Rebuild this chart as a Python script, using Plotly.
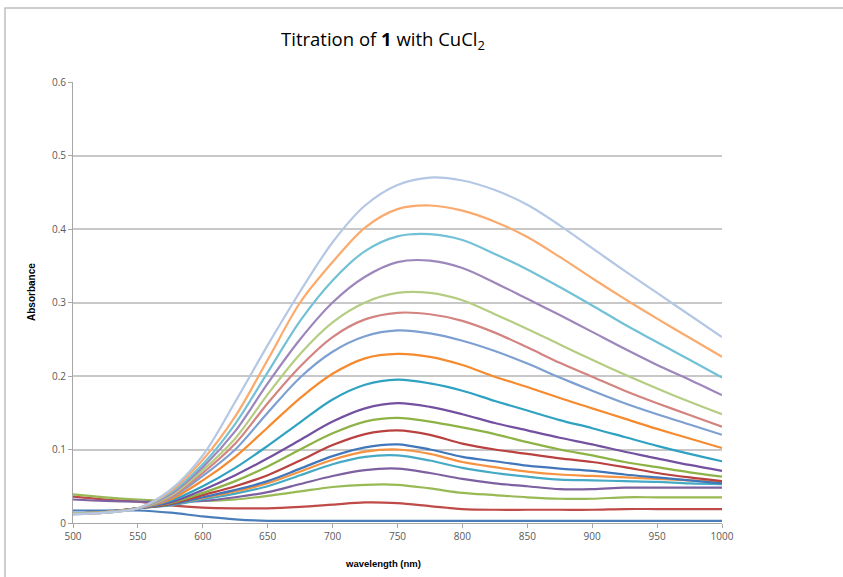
import plotly.graph_objects as go

wavelength = [500, 525, 550, 575, 600, 625, 650, 675, 700, 725, 750,
              775, 800, 825, 850, 875, 900, 925, 950, 975, 1000]

s01 = [0.017, 0.017, 0.017, 0.014, 0.009, 0.005, 0.003, 0.003, 0.003, 0.003, 0.003,
       0.003, 0.003, 0.003, 0.003, 0.003, 0.003, 0.003, 0.003, 0.003, 0.003]
s02 = [0.036, 0.032, 0.029, 0.024, 0.021, 0.020, 0.020, 0.022, 0.025, 0.028, 0.027,
       0.023, 0.019, 0.018, 0.018, 0.018, 0.018, 0.019, 0.019, 0.019, 0.019]
s03 = [0.039, 0.035, 0.032, 0.030, 0.030, 0.032, 0.037, 0.043, 0.049, 0.052, 0.052,
       0.047, 0.041, 0.038, 0.035, 0.033, 0.033, 0.035, 0.035, 0.035, 0.035]
s04 = [0.032, 0.030, 0.029, 0.029, 0.030, 0.035, 0.042, 0.053, 0.064, 0.072, 0.074,
       0.068, 0.060, 0.054, 0.050, 0.046, 0.046, 0.048, 0.048, 0.048, 0.048]
s05 = [0.013, 0.015, 0.020, 0.024, 0.032, 0.040, 0.050, 0.065, 0.080, 0.090, 0.092,
       0.085, 0.075, 0.068, 0.063, 0.059, 0.058, 0.057, 0.056, 0.054, 0.053]
s06 = [0.013, 0.015, 0.020, 0.025, 0.034, 0.043, 0.054, 0.070, 0.086, 0.097, 0.100,
       0.094, 0.083, 0.076, 0.070, 0.066, 0.064, 0.062, 0.060, 0.058, 0.056]
s07 = [0.013, 0.015, 0.020, 0.025, 0.035, 0.045, 0.057, 0.074, 0.091, 0.103, 0.107,
       0.100, 0.090, 0.084, 0.078, 0.074, 0.071, 0.066, 0.062, 0.058, 0.054]
s08 = [0.013, 0.015, 0.020, 0.026, 0.038, 0.050, 0.065, 0.085, 0.106, 0.121, 0.126,
       0.120, 0.108, 0.100, 0.094, 0.088, 0.083, 0.076, 0.068, 0.062, 0.057]
s09 = [0.013, 0.015, 0.020, 0.027, 0.041, 0.057, 0.077, 0.100, 0.122, 0.138, 0.143,
       0.138, 0.130, 0.121, 0.110, 0.100, 0.092, 0.083, 0.076, 0.069, 0.063]
s10 = [0.013, 0.015, 0.020, 0.028, 0.045, 0.065, 0.088, 0.113, 0.138, 0.156, 0.163,
       0.158, 0.148, 0.136, 0.126, 0.116, 0.107, 0.097, 0.088, 0.079, 0.071]
s11 = [0.013, 0.015, 0.020, 0.030, 0.050, 0.075, 0.105, 0.137, 0.168, 0.188, 0.195,
       0.190, 0.180, 0.166, 0.153, 0.140, 0.129, 0.117, 0.105, 0.094, 0.084]
s12 = [0.013, 0.015, 0.020, 0.032, 0.058, 0.090, 0.130, 0.170, 0.203, 0.224, 0.230,
       0.226, 0.215, 0.199, 0.185, 0.170, 0.156, 0.142, 0.128, 0.115, 0.102]
s13 = [0.013, 0.015, 0.020, 0.034, 0.064, 0.100, 0.150, 0.198, 0.233, 0.254, 0.262,
       0.258, 0.248, 0.234, 0.217, 0.198, 0.180, 0.163, 0.148, 0.134, 0.120]
s14 = [0.013, 0.015, 0.020, 0.035, 0.068, 0.108, 0.163, 0.213, 0.253, 0.277, 0.286,
       0.284, 0.275, 0.259, 0.239, 0.218, 0.199, 0.180, 0.163, 0.147, 0.131]
s15 = [0.013, 0.015, 0.020, 0.037, 0.072, 0.115, 0.175, 0.230, 0.273, 0.300, 0.313,
       0.313, 0.303, 0.284, 0.264, 0.243, 0.222, 0.202, 0.183, 0.165, 0.148]
s16 = [0.012, 0.014, 0.020, 0.039, 0.076, 0.125, 0.190, 0.250, 0.300, 0.335, 0.355,
       0.357, 0.347, 0.327, 0.305, 0.283, 0.260, 0.237, 0.215, 0.195, 0.174]
s17 = [0.012, 0.014, 0.020, 0.041, 0.080, 0.135, 0.205, 0.275, 0.330, 0.370, 0.390,
       0.393, 0.385, 0.366, 0.345, 0.321, 0.296, 0.270, 0.246, 0.222, 0.198]
s18 = [0.012, 0.014, 0.020, 0.043, 0.086, 0.145, 0.222, 0.300, 0.355, 0.402, 0.427,
       0.432, 0.425, 0.410, 0.389, 0.362, 0.333, 0.305, 0.278, 0.252, 0.226]
s19 = [0.012, 0.014, 0.020, 0.045, 0.092, 0.165, 0.242, 0.315, 0.382, 0.432, 0.460,
       0.470, 0.466, 0.453, 0.433, 0.405, 0.374, 0.343, 0.313, 0.283, 0.253]

series = [s01, s02, s03, s04, s05, s06, s07, s08, s09, s10,
          s11, s12, s13, s14, s15, s16, s17, s18, s19]

colors = ["#4A7EBB", "#BE4B48", "#98B954", "#7D60A0", "#46AAC5", "#F69240",
          "#4177BA", "#B94240", "#8DB346", "#7350A0", "#2FA2C2", "#F58A2E",
          "#7D9FD1", "#D38481", "#B5CD82", "#9D86BC", "#72C1D6", "#FAAA6C",
          "#B4C7E4"]

y_ticks = [0, 0.1, 0.2, 0.3, 0.4, 0.5, 0.6]
y_ticktext = ["0", "0.1", "0.2", "0.3", "0.4", "0.5", "0.6"]
x_ticks = [500, 550, 600, 650, 700, 750, 800, 850, 900, 950, 1000]

fig = go.Figure()
for i, (vals, col) in enumerate(zip(series, colors)):
    fig.add_trace(go.Scatter(
        x=wavelength, y=vals, mode="lines", name=f"Series{i+1}",
        line=dict(color=col, width=2.2, shape="spline", smoothing=0.9),
        hoverinfo="skip"))

tick_font = "Open Sans, Liberation Sans, sans-serif"
lab_font = "Liberation Sans, Arial, sans-serif"

fig.update_layout(
    width=843, height=577,
    margin=dict(l=73, r=121, t=82, b=54),
    paper_bgcolor="white", plot_bgcolor="white",
    showlegend=False,
    font=dict(family=tick_font, color="#595959", size=10),
    title=dict(
        text="Titration of <b>1</b> with CuCl<sub>2</sub>",
        x=383 / 843, xanchor="center",
        y=1 - 40 / 577, yanchor="middle",
        font=dict(family="Open Sans, Liberation Sans, sans-serif", size=18.5,
                  color="#000000")),
    xaxis=dict(
        range=[500, 1000], tickvals=x_ticks, ticks="outside", ticklen=4,
        tickcolor="#A6A6A6", showline=True, linecolor="#A6A6A6", linewidth=1,
        showgrid=False, zeroline=False,
        tickfont=dict(size=10, color="#595959")),
    yaxis=dict(
        range=[0, 0.6], tickvals=y_ticks, ticktext=y_ticktext, ticks="outside",
        ticklen=4, tickcolor="#A6A6A6", showline=True, linecolor="#A6A6A6",
        linewidth=1, showgrid=True, gridcolor="#C8C8C8", gridwidth=2,
        zeroline=False, tickfont=dict(size=10, color="#595959")),
    annotations=[
        dict(text="<b>wavelength (nm)</b>", xref="paper", yref="paper",
             x=(383 - 73) / 649, y=(523 - 563) / 441, xanchor="center",
             yanchor="middle", showarrow=False,
             font=dict(size=9.5, color="#000000", family=lab_font)),
        dict(text="<b>Absorbance</b>", xref="paper", yref="paper",
             x=(31 - 73) / 649, y=(523 - 292) / 441, xanchor="center",
             yanchor="middle", showarrow=False, textangle=-90,
             font=dict(size=10, color="#000000", family=lab_font)),
    ],
    shapes=[
        dict(type="rect", xref="paper", yref="paper",
             x0=(5 - 73) / 649, x1=(900 - 73) / 649,
             y0=(523 - 620) / 441, y1=(523 - 8) / 441,
             line=dict(color="#BFBFBF", width=1.5), layer="below"),
    ],
)

fig.write_html("out.html",
               config={"displayModeBar": False},
               post_script="document.body.style.margin='0';document.body.style.overflow='hidden';")
